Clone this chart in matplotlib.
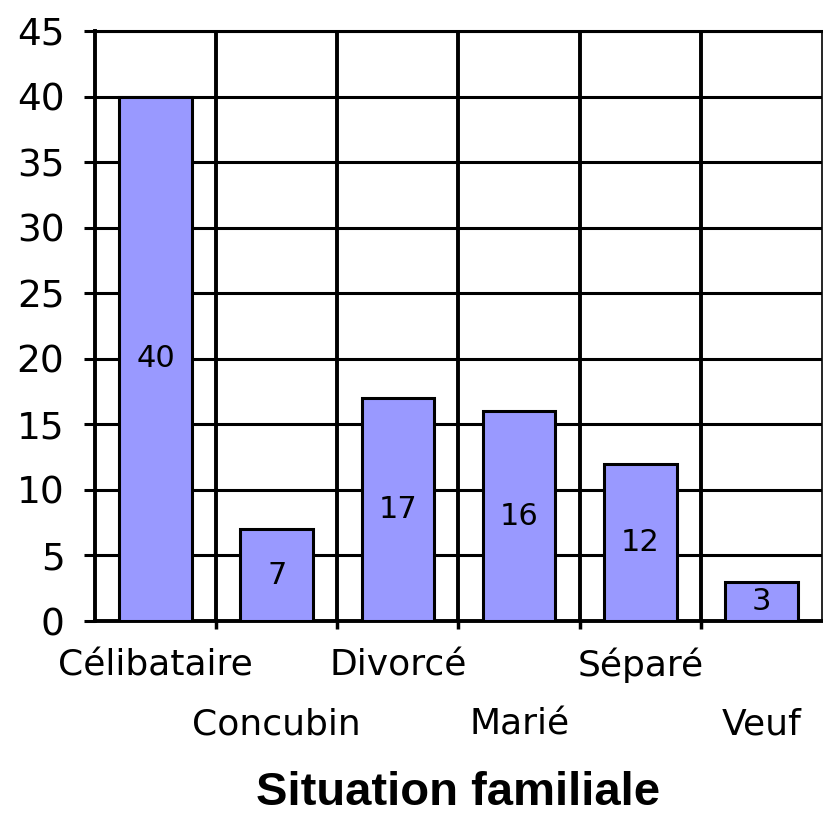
import numpy as np
import matplotlib
matplotlib.use('Agg')
import matplotlib.pyplot as plt
from matplotlib.ticker import MultipleLocator, FixedLocator

categories = ['Célibataire', 'Concubin', 'Divorcé', 'Marié', 'Séparé', 'Veuf']
values = [40, 7, 17, 16, 12, 3]

plt.rcParams['font.family'] = ['DejaVu Sans']

fig = plt.figure(figsize=(8.23, 8.17), dpi=100)
ax = fig.add_axes([95/823, 1 - 621/817, 727/823, 590/817])

x = np.arange(len(categories))
bars = ax.bar(x, values, width=0.6, color='#9999FF', edgecolor='black', linewidth=2.2, zorder=3)

for b, v in zip(bars, values):
    ax.text(b.get_x() + b.get_width() / 2, v / 2, str(v), ha='center', va='center',
            fontsize=22, zorder=4)

ax.set_xlim(-0.5, len(categories) - 0.5)
ax.set_ylim(0, 45)
ax.yaxis.set_major_locator(MultipleLocator(5))

# category boundaries -> vertical grid + small ticks
ax.xaxis.set_minor_locator(FixedLocator(np.arange(0.5, len(categories) - 0.5, 1)))
ax.set_xticks(x)
ax.set_xticklabels(categories, fontsize=26, va='baseline')
ax.tick_params(axis='x', which='major', length=0)
ax.tick_params(axis='x', which='minor', length=6, width=2.5, direction='out')
ax.tick_params(axis='y', length=8, width=2.2, pad=14, labelsize=27)
# staggered labels
for i, t in enumerate(ax.xaxis.get_major_ticks()):
    t.set_pad(39.5 if i % 2 == 0 else 82)

ax.grid(axis='y', which='major', color='black', linewidth=2.2, zorder=1)
ax.grid(axis='x', which='minor', color='black', linewidth=2.8, zorder=1)

ax.spines['left'].set_linewidth(2.8)
ax.spines['bottom'].set_linewidth(2.8)
ax.spines['top'].set_linewidth(2.2)
ax.spines['right'].set_linewidth(1.2)

ax.set_xlabel('Situation familiale', fontsize=34, fontweight='bold',
              family='Liberation Sans', va='baseline')
ax.xaxis.set_label_coords(0.5, (621 - 805) / 590)

fig.savefig('out.png', dpi=100)
